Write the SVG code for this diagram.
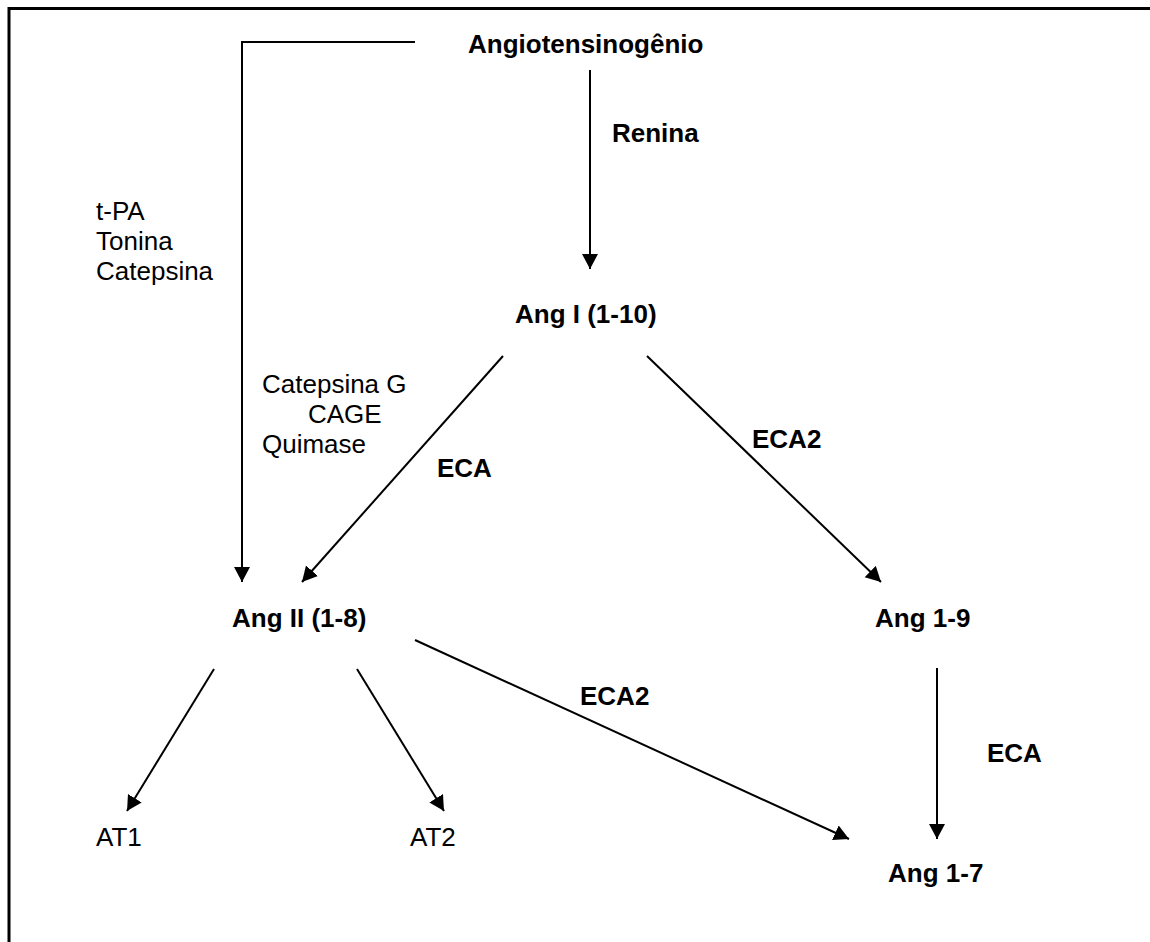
<svg xmlns="http://www.w3.org/2000/svg" width="1150" height="942" viewBox="0 0 1150 942">
<style>
text{font-family:"Liberation Sans",Arial,sans-serif;font-size:26px;fill:#000}
.b{font-weight:bold}
.c{fill:none;stroke:#000;stroke-width:2}
.frame{fill:none;stroke:#000;stroke-width:3}
</style>
<defs>
<marker id="ah" markerUnits="userSpaceOnUse" markerWidth="17" markerHeight="18" refX="15" refY="8" orient="auto" viewBox="0 0 17 18">
<path d="M0,0 L15,8 L0,16 z" fill="#000"/>
</marker>
</defs>
<rect width="1150" height="942" fill="#fff"/>
<path class="frame" d="M9,942 V8.5 H1150"/>
<g id="connectors">
<path class="c" d="M415,42 H242 V582" marker-end="url(#ah)"/>
<path class="c" d="M590,70 V269" marker-end="url(#ah)"/>
<path class="c" d="M503,356 L302,582" marker-end="url(#ah)"/>
<path class="c" d="M647,356 L881,582" marker-end="url(#ah)"/>
<path class="c" d="M214,669 L127,811" marker-end="url(#ah)"/>
<path class="c" d="M357,669 L444,811" marker-end="url(#ah)"/>
<path class="c" d="M415,640 L849,839" marker-end="url(#ah)"/>
<path class="c" d="M937,668 V839" marker-end="url(#ah)"/>
</g>
<g id="n-angiotensinogenio"><text class="b" x="468" y="53">Angiotensinogênio</text></g>
<g id="l-renina"><text class="b" x="612" y="142">Renina</text></g>
<g id="n-angI"><text class="b" x="515" y="323">Ang I (1-10)</text></g>
<g id="l-tpa"><text x="96" y="220">t-PA</text><text x="96" y="250">Tonina</text><text x="96" y="280">Catepsina</text></g>
<g id="l-catg"><text x="262" y="393">Catepsina G</text><text x="308" y="423">CAGE</text><text x="262" y="453">Quimase</text></g>
<g id="l-eca1"><text class="b" x="437" y="477">ECA</text></g>
<g id="l-eca2a"><text class="b" x="752" y="448">ECA2</text></g>
<g id="n-angII"><text class="b" x="232" y="627">Ang II (1-8)</text></g>
<g id="n-ang19"><text class="b" x="875" y="627">Ang 1-9</text></g>
<g id="l-eca2b"><text class="b" x="580" y="705">ECA2</text></g>
<g id="l-eca3"><text class="b" x="987" y="762">ECA</text></g>
<g id="n-at1"><text x="96" y="846">AT1</text></g>
<g id="n-at2"><text x="410" y="846">AT2</text></g>
<g id="n-ang17"><text class="b" x="888" y="882">Ang 1-7</text></g>
</svg>
